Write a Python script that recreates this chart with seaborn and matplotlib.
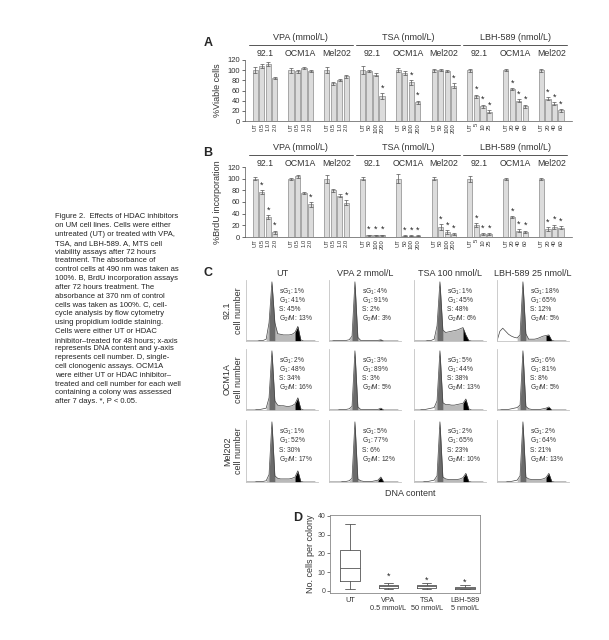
import numpy as np
import pandas as pd
import matplotlib
matplotlib.use('Agg')
import matplotlib.pyplot as plt
import matplotlib.transforms as mtransforms
import seaborn as sns

sns.set_style("ticks")
plt.rcParams['font.family'] = ['Liberation Sans', 'DejaVu Sans']
plt.rcParams['mathtext.fontset'] = 'custom'
plt.rcParams['mathtext.rm'] = 'Liberation Sans'
plt.rcParams['mathtext.it'] = 'Liberation Sans:italic'

# ---------------- data ----------------
drugs = ['VPA (mmol/L)', 'TSA (nmol/L)', 'LBH-589 (nmol/L)']
cell_lines = ['92.1', 'OCM1A', 'Mel202']
dose_labels = [
    ['UT', '0.5', '1.0', '2.0'], ['UT', '0.5', '1.0', '2.0'], ['UT', '0.5', '1.0', '2.0'],
    ['UT', '50', '100', '200'], ['UT', '50', '100', '200'], ['UT', '50', '100', '200'],
    ['UT', '5', '10', '25'], ['UT', '20', '40', '60'], ['UT', '20', '40', '60'],
]

viability = [
    [100, 108, 113, 85], [100, 98, 105, 98], [100, 74, 80, 88],
    [100, 98, 91, 49], [100, 95, 76, 37], [100, 100, 99, 69],
    [100, 49, 29, 18], [100, 63, 40, 29], [100, 44, 34, 21],
]
viability_err = [
    [6, 4, 4, 2], [5, 3, 2, 2], [6, 3, 2, 3],
    [8, 2, 3, 6], [4, 4, 5, 3], [3, 2, 2, 5],
    [3, 3, 3, 3], [2, 2, 3, 3], [3, 3, 3, 3],
]
viability_sig = [(3, 3), (4, 2), (4, 3), (5, 3), (6, 1), (6, 2), (6, 3),
                 (7, 1), (7, 2), (7, 3), (8, 1), (8, 2), (8, 3)]

brdu = [
    [100, 77, 34, 8], [100, 104, 75, 56], [100, 80, 71, 59],
    [100, 3, 3, 3], [100, 2, 2, 2], [100, 17, 9, 5],
    [100, 21, 5, 5], [100, 34, 11, 9], [100, 14, 17, 16],
]
brdu_err = [
    [3, 3, 3, 3], [2, 3, 2, 4], [7, 2, 3, 4],
    [3, 1, 1, 1], [8, 1, 1, 1], [3, 5, 3, 2],
    [5, 3, 2, 2], [2, 2, 2, 2], [2, 3, 4, 3],
]
brdu_sig = [(0, 1), (0, 2), (0, 3), (1, 3), (2, 3)] + \
    [(g, j) for g in range(3, 9) for j in (1, 2, 3)]

# flow cytometry histograms (cell number per DNA-content channel)
channels = [0, 10, 20, 30, 40, 50, 60, 70, 80, 90, 100, 110, 120,
            130, 140, 150, 160, 170, 180, 190, 200, 210, 220, 230, 240]
hist_921 = [
    [0, 0, 0, 0, 0, 1, 1, 3, 30, 97, 30, 12, 11, 10, 10, 10, 11, 14, 24, 2, 0, 0, 0, 0, 0],
    [0, 0, 1, 1, 1, 1, 1, 2, 8, 97, 6, 1, 1, 1, 1, 1, 1, 1, 2, 0, 0, 0, 0, 0, 0],
    [0, 0, 0, 0, 0, 1, 1, 3, 25, 97, 18, 14, 15, 16, 17, 18, 20, 22, 10, 1, 0, 0, 0, 0, 0],
    [0, 16, 21, 16, 11, 8, 6, 5, 10, 97, 12, 3, 3, 3, 4, 6, 8, 9, 10, 1, 0, 0, 0, 0, 0],
]
hist_ocm1a = [
    [0, 0, 0, 0, 1, 1, 2, 3, 20, 97, 15, 8, 7, 7, 6, 6, 7, 10, 20, 2, 0, 0, 0, 0, 0],
    [0, 0, 0, 0, 1, 1, 1, 2, 6, 97, 5, 1, 1, 1, 1, 1, 1, 1, 3, 0, 0, 0, 0, 0, 0],
    [0, 0, 0, 1, 1, 2, 3, 4, 15, 97, 12, 9, 9, 8, 8, 9, 10, 11, 18, 2, 0, 0, 0, 0, 0],
    [0, 0, 1, 1, 1, 2, 3, 4, 8, 97, 6, 2, 1, 1, 1, 1, 2, 3, 5, 0, 0, 0, 0, 0, 0],
]
hist_mel202 = [
    [0, 0, 0, 0, 1, 1, 1, 2, 12, 97, 10, 6, 5, 5, 5, 5, 6, 8, 18, 1, 0, 0, 0, 0, 0],
    [0, 0, 0, 0, 0, 1, 1, 2, 6, 97, 5, 2, 1, 1, 1, 1, 2, 3, 8, 0, 0, 0, 0, 0, 0],
    [0, 0, 0, 0, 1, 1, 2, 3, 10, 97, 8, 5, 4, 4, 4, 4, 5, 7, 14, 1, 0, 0, 0, 0, 0],
    [0, 0, 0, 0, 1, 1, 2, 3, 10, 97, 8, 5, 4, 4, 4, 4, 5, 7, 14, 1, 0, 0, 0, 0, 0],
]
hist_rows = [hist_921, hist_ocm1a, hist_mel202]
col_titles = ['UT', 'VPA 2 mmol/L', 'TSA 100 nmol/L', 'LBH-589 25 nmol/L']
# sG1, G1, S, G2/M percentages
phase_pct = [
    [[1, 41, 45, 13], [4, 91, 2, 3], [1, 45, 48, 6], [18, 65, 12, 5]],
    [[2, 48, 34, 16], [3, 89, 3, 5], [5, 44, 38, 13], [6, 81, 8, 5]],
    [[1, 52, 30, 17], [5, 77, 6, 12], [2, 65, 23, 10], [2, 64, 21, 13]],
]

# clonogenic box plot
box_labels = ['UT', 'VPA\n0.5 mmol/L', 'TSA\n50 nmol/L', 'LBH-589\n5 nmol/L']
whis_lo = [1, 1, 1, 0.8]
q1 = [5.2, 1.8, 1.8, 0.9]
median = [12, 2.4, 2.4, 1.4]
q3 = [21.8, 3.0, 3.0, 2.0]
whis_hi = [35.5, 4.3, 4.3, 3.0]
box_star = [None, 7.9, 5.7, 4.8]

caption_lines = [
    "Figure 2.  Effects of HDAC inhibitors",
    "on UM cell lines. Cells were either",
    "untreated (UT) or treated with VPA,",
    "TSA, and LBH-589. A, MTS cell",
    "viability assays after 72 hours",
    "treatment. The absorbance of",
    "control cells at 490 nm was taken as",
    "100%. B, BrdU incorporation assays",
    "after 72 hours treatment. The",
    "absorbance at 370 nm of control",
    "cells was taken as 100%. C, cell-",
    "cycle analysis by flow cytometry",
    "using propidium iodide staining.",
    "Cells were either UT or HDAC",
    "inhibitor\u2013treated for 48 hours; x-axis",
    "represents DNA content and y-axis",
    "represents cell number. D, single-",
    "cell clonogenic assays. OCM1A",
    "were either UT or HDAC inhibitor\u2013",
    "treated and cell number for each well",
    "containing a colony was assessed",
    "after 7 days. *, P < 0.05.",
]

# ---------------- figure ----------------
W, H = 609, 640
fig = plt.figure(figsize=(W / 100, H / 100), dpi=100)


def px_axes(x0, y0, x1, y1):
    return fig.add_axes([x0 / W, 1 - y1 / H, (x1 - x0) / W, (y1 - y0) / H])


def fy(ypx):
    return 1 - ypx / H


for i, line in enumerate(caption_lines):
    fig.text(55 / W, fy(217 + i * 8.8), line, fontsize=5.5, va='center', ha='left',
             color='#222222')

for letter, xp, yp in [('A', 208, 43), ('B', 208, 153), ('C', 208, 273), ('D', 298, 518)]:
    fig.text(xp / W, fy(yp), letter, fontsize=9, fontweight='bold', ha='center', va='center')


def bar_panel(ax, values, errors, sig, ylabel, y_drug, y_line, y_cell):
    pos = [g * 5.5 + j for g in range(9) for j in range(4)]
    vals = [v for grp in values for v in grp]
    errs = [e for grp in errors for e in grp]
    df = pd.DataFrame({'pos': pos, 'val': vals})
    sns.barplot(data=df, x='pos', y='val', native_scale=True, errorbar=None,
                color='#dcdcdc', saturation=1, edgecolor='#8a8a8a', linewidth=0.5,
                width=0.8, ax=ax)
    ax.errorbar(pos, vals, yerr=errs, fmt='none', ecolor='#555555',
                elinewidth=0.5, capsize=1.2, capthick=0.5)
    for g, j in sig:
        i = g * 4 + j
        ax.text(pos[i], vals[i] + errs[i] + 1, '*', ha='center', va='bottom',
                fontsize=6.5, color='#222222')
    ax.set_xlim(-1.58, 48.7)
    ax.set_ylim(0, 120)
    ax.set_yticks(range(0, 121, 20))
    ax.tick_params(axis='y', labelsize=5.5, length=2, width=0.5, pad=1.5, colors='#333333')
    labels = [lab for grp in dose_labels for lab in grp]
    ax.set_xticks(pos, labels, rotation=90, fontsize=4.2)
    ax.tick_params(axis='x', length=0, pad=1.5, colors='#333333')
    ax.set_xlabel('')
    ax.set_ylabel(ylabel, fontsize=6.5, color='#333333')
    ax.yaxis.set_label_coords(-0.07, 0.5)
    sns.despine(ax=ax)
    for s in ['left', 'bottom']:
        ax.spines[s].set_linewidth(0.5)
        ax.spines[s].set_color('#555555')
    trans = mtransforms.blended_transform_factory(ax.transData, fig.transFigure)
    for d, name in enumerate(drugs):
        x0 = (3 * d) * 5.5 - 1
        x1 = (3 * d + 2) * 5.5 + 4
        ax.plot([x0, x1], [fy(y_line), fy(y_line)], transform=trans, clip_on=False,
                color='#555555', lw=0.7)
        ax.text((x0 + x1) / 2, fy(y_drug), name, transform=trans, ha='center',
                va='center', fontsize=6.5, color='#333333')
        for c, cl in enumerate(cell_lines):
            g = 3 * d + c
            ax.text(g * 5.5 + 1.5, fy(y_cell), cl, transform=trans, ha='center',
                    va='center', fontsize=6.3, color='#333333')


axA = px_axes(245, 60, 572, 121)
bar_panel(axA, viability, viability_err, viability_sig, '%Viable cells', 37, 45, 53)
axB = px_axes(245, 167, 572, 237)
bar_panel(axB, brdu, brdu_err, brdu_sig, '%BrdU incorporation', 147, 155, 163)

# ---------------- panel C ----------------
col_x = [(246, 318), (329, 401), (414, 486), (497, 569)]
row_y = [(280, 341), (349, 410), (420, 482)]
row_names = ['92.1', 'OCM1A', 'Mel202']
x = np.array(channels)
for r, (y0, y1) in enumerate(row_y):
    fig.text(233 / W, fy((y0 + y1) / 2), row_names[r] + '\ncell number', rotation=90,
             ha='center', va='center', fontsize=6.5, color='#333333', linespacing=1.3)
    for c, (x0, x1) in enumerate(col_x):
        ax = px_axes(x0, y0, x1, y1)
        y = np.array(hist_rows[r][c])
        ax.fill_between(x, y, where=(x >= 70) & (x <= 170), color='#b9b9b9', lw=0)
        ax.fill_between(x, y, where=(x >= 80) & (x <= 100), color='#6b6b6b', lw=0)
        ax.fill_between(x, y, where=(x >= 170) & (x <= 190), color='black', lw=0)
        sns.lineplot(x=x, y=y, ax=ax, color='#444444', lw=0.5)
        ax.set_xlim(0, 250)
        ax.set_ylim(0, 100)
        ax.set_xticks([])
        ax.set_yticks([])
        ax.set_xlabel('')
        ax.set_ylabel('')
        sns.despine(ax=ax)
        for s in ['left', 'bottom']:
            ax.spines[s].set_linewidth(0.6)
            ax.spines[s].set_color('#c4c4c4')
        p = phase_pct[r][c]
        lines = [f'sG$_1$: {p[0]}%', f'G$_1$: {p[1]}%', f'S: {p[2]}%', f'G$_2$/M: {p[3]}%']
        for i, t in enumerate(lines):
            ax.text(0.46, 0.81 - i * 0.15, t, transform=ax.transAxes, fontsize=4.8,
                    va='center', ha='left', color='#333333')
        if r == 0:
            fig.text((x0 + x1) / 2 / W, fy(273), col_titles[c], ha='center', va='center',
                     fontsize=6.5, color='#333333')
fig.text(410 / W, fy(493), 'DNA content', ha='center', va='center', fontsize=6.5,
         color='#333333')

# ---------------- panel D ----------------
axD = px_axes(330, 515, 480, 593)
stats = [dict(whislo=whis_lo[i], q1=q1[i], med=median[i], q3=q3[i], whishi=whis_hi[i],
              label=box_labels[i]) for i in range(4)]
lp = dict(color='#555555', lw=0.6)
axD.bxp(stats, positions=[0, 1, 2, 3], widths=0.5, showfliers=False,
        boxprops=lp, whiskerprops=lp, capprops=lp, medianprops=lp)
for i, s in enumerate(box_star):
    if s is not None:
        axD.text(i, s, '*', ha='center', va='center', fontsize=6.5, color='#222222')
axD.set_xlim(-0.52, 3.39)
axD.set_ylim(-1.07, 40.5)
axD.set_yticks(range(0, 41, 10))
axD.tick_params(axis='y', labelsize=5, length=2, width=0.5, pad=1.5, colors='#444444')
axD.tick_params(axis='x', labelsize=5.3, length=0, pad=3, colors='#333333')
axD.set_ylabel('No. cells per colony', fontsize=6.5, color='#333333')
axD.yaxis.set_label_coords(-0.1, 0.5)
for s in axD.spines.values():
    s.set_linewidth(0.6)
    s.set_color('#888888')

plt.savefig('out.png', dpi=100)
plt.close()
